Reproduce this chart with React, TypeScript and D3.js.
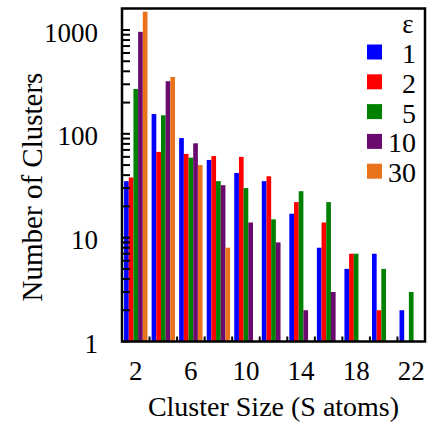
import * as d3 from 'd3';

const sizes = [2, 4, 6, 8, 10, 12, 14, 16, 18, 20, 22];
const epsilons = ['1', '2', '5', '10', '30'];
const colors = ['#0000ff', '#ff0000', '#008000', '#6a0a6e', '#e8731a'];

// counts per cluster size, null = no clusters
const eps1 = [35, 155, 91, 56, 42, 35, 17, 8, 5, 7, 2];
const eps2 = [38, 67, 64, 61, 60, 39, 22, 14, 7, 2, null];
const eps5 = [270, 151, 59, 35, 30, 15, 28, 22, 7, 5, 3];
const eps10 = [960, 321, 81, 32, 14, 9, 2, 3, null, null, null];
const eps30 = [1500, 353, 50, 8, null, null, null, null, null, null, null];
const series = [eps1, eps2, eps5, eps10, eps30];

const yTickLabels = [1, 10, 100, 1000];
const xTickLabels = [2, 6, 10, 14, 18, 22];

const W = 427;
const H = 422;
const margin = { top: 8.5, right: 2, bottom: 80.5, left: 122 };
const font = '"Liberation Serif", "Times New Roman", "DejaVu Serif", serif';

export default function App() {
  const left = margin.left;
  const right = W - margin.right;
  const top = margin.top;
  const bottom = H - margin.bottom;

  const x0 = d3.scaleBand<number>()
    .domain(sizes)
    .range([left, right])
    .paddingInner(0.15)
    .paddingOuter(0.075);
  const x1 = d3.scaleBand<number>()
    .domain(d3.range(epsilons.length))
    .range([0, x0.bandwidth()]);
  const y = d3.scaleLog().domain([1, 1610]).range([bottom, top]);

  const step = x0.step();
  const minorTicks = y.ticks().filter(t => t <= 1000);
  const boundaries = d3.range(1, sizes.length).map(i => left + i * step);

  return (
    <svg width={W} height={H} style={{ position: 'absolute', left: 0, top: 0, fontFamily: font }}>
      <rect x={0} y={0} width={W} height={H} fill="#fff" />
      {series.map((vals, si) =>
        vals.map((v, i) =>
          v == null ? null : (
            <rect
              key={`${si}-${i}`}
              x={(x0(sizes[i]) as number) + (x1(si) as number)}
              y={y(v)}
              width={x1.bandwidth()}
              height={y(1) - y(v)}
              fill={colors[si]}
            />
          )
        )
      )}
      {/* y ticks, inside */}
      {minorTicks.map(t => (
        <line key={`yt${t}`} x1={left} x2={left + 8} y1={y(t)} y2={y(t)} stroke="#000" strokeWidth={2} />
      ))}
      {/* x ticks at group boundaries, inside */}
      {boundaries.map((bx, i) => (
        <line key={`xt${i}`} x1={bx} x2={bx} y1={bottom} y2={bottom - 5} stroke="#000" strokeWidth={2} />
      ))}
      <rect x={left} y={top} width={right - left} height={bottom - top} fill="none" stroke="#000" strokeWidth={2.5} />
      {yTickLabels.map(t => (
        <text key={`yl${t}`} x={98} y={y(t)} dy="0.43em" textAnchor="end" fontSize={27}>
          {t}
        </text>
      ))}
      {xTickLabels.map(t => (
        <text key={`xl${t}`} x={(x0(t) as number) + x0.bandwidth() / 2} y={380} textAnchor="middle" fontSize={27}>
          {t}
        </text>
      ))}
      <text x={(left + right) / 2} y={416} textAnchor="middle" fontSize={28}>
        Cluster Size (S atoms)
      </text>
      <text transform="translate(42,187) rotate(-90)" textAnchor="middle" fontSize={29}>
        Number of Clusters
      </text>
      {/* legend */}
      <text x={408} y={33} textAnchor="middle" fontSize={27}>ε</text>
      {epsilons.map((e, i) => (
        <g key={`lg${e}`} transform={`translate(0,${52 + i * 29.8})`}>
          <rect x={367} y={-7.5} width={15} height={15} fill={colors[i]} />
          <text x={416} y={11} textAnchor="end" fontSize={28}>{e}</text>
        </g>
      ))}
    </svg>
  );
}
